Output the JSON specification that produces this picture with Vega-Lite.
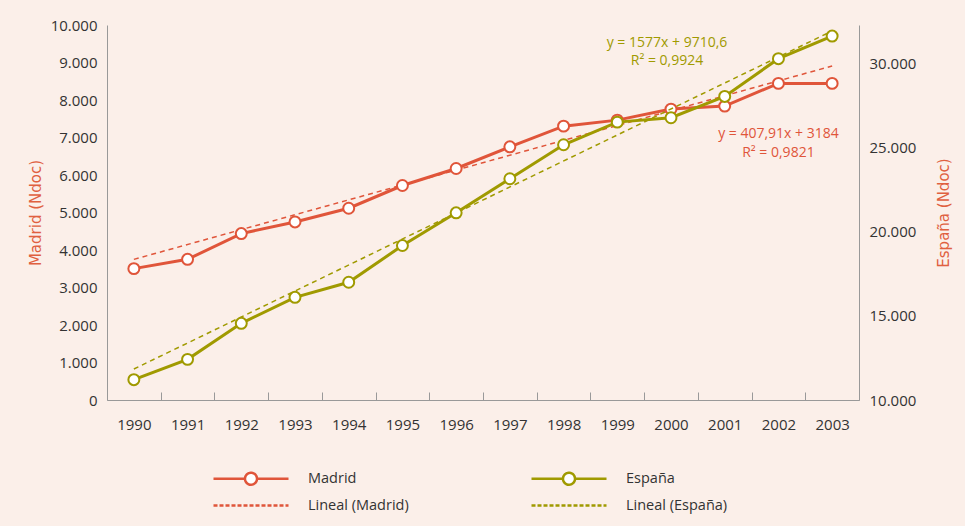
{
  "$schema": "https://vega.github.io/schema/vega-lite/v6.json",
  "width": 752,
  "height": 375,
  "autosize": "none",
  "padding": {"left": 107, "top": 25, "right": 106, "bottom": 126},
  "background": "#fbefe9",
  "config": {
    "font": "Open Sans",
    "view": {"stroke": null},
    "axis": {"labelFont": "Open Sans", "titleFont": "DejaVu Sans", "grid": false}
  },
  "datasets": {
    "main": [
      {"year": 1990, "madrid": 3503, "espana": 11208},
      {"year": 1991, "madrid": 3752, "espana": 12417},
      {"year": 1992, "madrid": 4438, "espana": 14560},
      {"year": 1993, "madrid": 4748, "espana": 16107},
      {"year": 1994, "madrid": 5114, "espana": 17000},
      {"year": 1995, "madrid": 5720, "espana": 19185},
      {"year": 1996, "madrid": 6173, "espana": 21131},
      {"year": 1997, "madrid": 6751, "espana": 23155},
      {"year": 1998, "madrid": 7303, "espana": 25179},
      {"year": 1999, "madrid": 7463, "espana": 26524},
      {"year": 2000, "madrid": 7757, "espana": 26786},
      {"year": 2001, "madrid": 7837, "espana": 28054},
      {"year": 2002, "madrid": 8443, "espana": 30298},
      {"year": 2003, "madrid": 8443, "espana": 31643}
    ],
    "trend": [
      {"year": 1990, "madrid": 3750, "espana": 11843},
      {"year": 2003, "madrid": 8907, "espana": 31944}
    ],
    "notesM": [
      {"year": 2002, "madrid": 7093, "text": "y = 407,91x + 3184"},
      {"year": 2002, "madrid": 6600, "text": "R² = 0,9821"}
    ],
    "notesE": [
      {"year": 2000, "espana": 31200, "text": "y = 1577x + 9710,6"},
      {"year": 2000, "espana": 30130, "text": "R² = 0,9924"}
    ]
  },
  "encoding": {
    "x": {
      "field": "year",
      "type": "ordinal",
      "scale": {"type": "band", "paddingInner": 0, "paddingOuter": 0, "domain": [1990,1991,1992,1993,1994,1995,1996,1997,1998,1999,2000,2001,2002,2003]},
      "axis": {
        "title": null,
        "labelAngle": 0,
        "tickBand": "extent",
        "domainColor": "#999999",
        "tickColor": "#999999",
        "tickSize": -8,
        "labelFontSize": 15,
        "labelColor": "#333333",
        "labelPadding": 25
      }
    }
  },
  "layer": [
    {
      "encoding": {
        "y": {
          "field": "madrid",
          "type": "quantitative",
          "scale": {"domain": [0, 10000], "nice": false, "zero": true},
          "axis": {
            "title": "Madrid (Ndoc)",
            "titleColor": "#e0603f",
            "titleFontSize": 15,
            "titleFontWeight": "normal",
            "titlePadding": 7,
            "values": [0, 1000, 2000, 3000, 4000, 5000, 6000, 7000, 8000, 9000, 10000],
            "labelExpr": "replace(format(datum.value, ','), ',', '.')",
            "ticks": false,
            "domainColor": "#999999",
            "labelFontSize": 15,
            "labelColor": "#333333",
            "labelPadding": 10
          }
        }
      },
      "layer": [
        {
          "data": {"name": "trend"},
          "mark": {"type": "line", "strokeDash": [5, 4], "strokeWidth": 1.5},
          "encoding": {
            "stroke": {
              "datum": "Lineal (Madrid)",
              "type": "nominal",
              "scale": {
                "domain": ["Madrid", "Lineal (Madrid)", "España", "Lineal (España)"],
                "range": ["#e0553a", "#e0553a", "#a09a00", "#a09a00"]
              },
              "legend": {
                "title": null,
                "orient": "none",
                "direction": "vertical",
                "legendX": 105,
                "legendY": 446,
                "columns": 2,
                "columnPadding": 117,
                "rowPadding": 7,
                "symbolSize": 144,
                "symbolType": "M-1,0L11.5,0",
                "symbolStrokeWidth": 2.5,
                "labelFontSize": 14.5,
                "labelColor": "#333333",
                "labelOffset": 81,
                "encode": {
                  "symbols": {
                    "update": {
                      "shape": {"signal": "indexof(datum.value, 'Lineal') < 0 ? 'M-1,0L4.25,0M6.25,0L11.5,0M4.25,0A1,1 0 1,1 6.25,0A1,1 0 1,1 4.25,0' : 'M-1,0L11.5,0'"},
                      "strokeDash": {"signal": "indexof(datum.value, 'Lineal') < 0 ? [1, 0] : [4, 2]"},
                      "fill": {"value": "white"},
                      "fillOpacity": {"value": 1}
                    }
                  }
                }
              }
            }
          }
        },
        {
          "data": {"name": "main"},
          "mark": {"type": "line", "strokeWidth": 3},
          "encoding": {"stroke": {"datum": "Madrid", "type": "nominal"}}
        },
        {
          "data": {"name": "main"},
          "mark": {"type": "circle", "fill": "white", "stroke": "#e0553a", "strokeWidth": 2, "size": 120, "opacity": 1}
        },
        {
          "data": {"name": "notesM"},
          "mark": {"type": "text", "fontSize": 14, "color": "#e0553a", "align": "center", "baseline": "middle"},
          "encoding": {"text": {"field": "text"}}
        }
      ]
    },
    {
      "encoding": {
        "y": {
          "field": "espana",
          "type": "quantitative",
          "scale": {"domain": [10000, 32300], "nice": false, "zero": false},
          "axis": {
            "orient": "right",
            "title": "España (Ndoc)",
            "titleColor": "#e0603f",
            "titleFontSize": 15,
            "titleFontWeight": "normal",
            "titleAngle": 270,
            "titlePadding": 36,
            "values": [10000, 15000, 20000, 25000, 30000],
            "labelExpr": "replace(format(datum.value, ','), ',', '.')",
            "ticks": false,
            "domainColor": "#999999",
            "labelFontSize": 15,
            "labelColor": "#333333",
            "labelPadding": 10
          }
        }
      },
      "layer": [
        {
          "data": {"name": "trend"},
          "mark": {"type": "line", "strokeDash": [5, 4], "strokeWidth": 1.5},
          "encoding": {"stroke": {"datum": "Lineal (España)", "type": "nominal"}}
        },
        {
          "data": {"name": "main"},
          "mark": {"type": "line", "strokeWidth": 3},
          "encoding": {"stroke": {"datum": "España", "type": "nominal"}}
        },
        {
          "data": {"name": "main"},
          "mark": {"type": "circle", "fill": "white", "stroke": "#a09a00", "strokeWidth": 2, "size": 120, "opacity": 1}
        },
        {
          "data": {"name": "notesE"},
          "mark": {"type": "text", "fontSize": 14, "color": "#a09a00", "align": "center", "baseline": "middle", "dx": -4},
          "encoding": {"text": {"field": "text"}}
        }
      ]
    }
  ],
  "resolve": {"scale": {"y": "independent"}}
}
